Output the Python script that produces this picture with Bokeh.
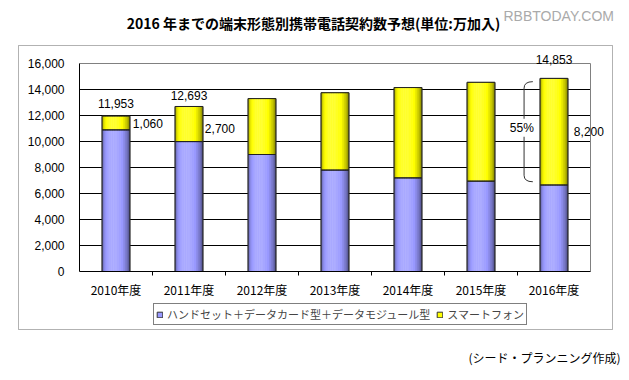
from bokeh.plotting import figure
from bokeh.models import (ColumnDataSource, Label, Legend, LegendItem, FixedTicker,
                          NumeralTickFormatter, PolyAnnotation)
from bokeh.transform import dodge
from bokeh.embed import file_html
from bokeh.resources import INLINE

# ---------------- data ----------------
years = ["2010年度", "2011年度", "2012年度", "2013年度", "2014年度", "2015年度", "2016年度"]
handset = [10893, 9993, 9000, 7800, 7200, 6950, 6653]
smartphone = [1060, 2700, 4300, 5950, 6950, 7600, 8200]
series_names = ["ハンドセット＋データカード型＋データモジュール型", "スマートフォン"]
y_ticks = [0, 2000, 4000, 6000, 8000, 10000, 12000, 14000, 16000]
title_text = "2016 年までの端末形態別携帯電話契約数予想(単位:万加入)"
source_text = "(シード・プランニング作成)"
share_text = "55%"
watermark = "RBBTODAY.COM"

x = list(range(len(years)))
total = [h + s for h, s in zip(handset, smartphone)]
src = ColumnDataSource(dict(x=x, handset=handset, smartphone=smartphone, total=total))

JP = "Noto Sans CJK JP"
NUM = "Liberation Sans"
BAR_W = 0.38
BASE_COLORS = ["#9999FF", "#FFFF00"]
X0, X1 = -0.5, len(years) - 0.5
YMAX = y_ticks[-1]

# ---------------- layout (canvas pixels) ----------------
W, H = 621, 372
PL, PR, PT, PB = 79, 590, 63, 271          # plot-area edges inside the canvas
px_per_x = (PR - PL) / (X1 - X0)
px_per_y = (PB - PT) / YMAX
x_range = (X0 - PL / px_per_x, X1 + (W - PR) / px_per_x)
y_range = (-(H - PB) / px_per_y, YMAX + PT / px_per_y)

p = figure(width=W, height=H, x_range=x_range, y_range=y_range,
           output_backend="svg", toolbar_location=None, title=None,
           min_border=0, min_border_left=0, min_border_right=0,
           min_border_top=0, min_border_bottom=0)
p.background_fill_color = "white"
p.border_fill_color = "white"
p.outline_line_color = None

# axes drawn at the plot-area edges
p.xaxis.fixed_location = 0
p.xaxis.bounds = (X0, X1)
p.xaxis.ticker = FixedTicker(ticks=x, minor_ticks=[i + 0.5 for i in x[:-1]])
p.xaxis.major_label_overrides = {i: y for i, y in zip(x, years)}
p.xaxis.major_tick_out = 0
p.xaxis.major_tick_in = 0
p.xaxis.minor_tick_out = 4
p.xaxis.minor_tick_in = 0
p.xaxis.minor_tick_line_color = "black"
p.xaxis.major_label_standoff = 5
p.xaxis.major_label_text_font = JP
p.xaxis.major_label_text_font_size = "12px"
p.xaxis.major_label_text_color = "black"
p.xaxis.axis_line_color = "black"

p.yaxis.fixed_location = X0
p.yaxis.bounds = (0, YMAX)
p.yaxis.ticker = FixedTicker(ticks=y_ticks)
p.yaxis.formatter = NumeralTickFormatter(format="0,0")
p.yaxis.major_tick_out = 0
p.yaxis.major_tick_in = 0
p.yaxis.minor_tick_line_color = None
p.yaxis.major_label_standoff = 15
p.yaxis.major_label_text_font = NUM
p.yaxis.major_label_text_font_size = "12px"
p.yaxis.major_label_text_color = "black"
p.yaxis.axis_line_color = "black"

p.xgrid.visible = False
p.ygrid.visible = False

# gridlines limited to the plot area, plus the grey top/right border of the plot area
grid_vals = y_ticks[1:-1]
p.segment(x0=[X0] * len(grid_vals), x1=[X1] * len(grid_vals), y0=grid_vals, y1=grid_vals,
          line_color="black", line_width=1)
p.segment(x0=[X0, X1], x1=[X1, X1], y0=[YMAX, 0], y1=[YMAX, YMAX],
          line_color="#808080", line_width=1)

# base stacked bars (also used for legend)
base = p.vbar_stack(["handset", "smartphone"], x="x", width=BAR_W, source=src,
                    color=BASE_COLORS, line_color="#333333", line_width=1)


# cylinder-like shading strips
def shade(hex_color, t):
    r, g, b = int(hex_color[1:3], 16), int(hex_color[3:5], 16), int(hex_color[5:7], 16)
    peak = 0.38
    if t < peak:
        k = 0.22 - 0.55 * ((peak - t) / peak) ** 2
    else:
        k = 0.22 - 0.70 * ((t - peak) / (1 - peak)) ** 2
    if k >= 0:
        r, g, b = [int(c + (255 - c) * k) for c in (r, g, b)]
    else:
        r, g, b = [int(c * (1 + k)) for c in (r, g, b)]
    return "#%02x%02x%02x" % (r, g, b)


N = 16
sw = BAR_W / N
for i in range(N):
    t = (i + 0.5) / N
    off = -BAR_W / 2 + (i + 0.5) * sw
    p.vbar(x=dodge("x", off), width=sw * 1.05, bottom=0, top="handset", source=src,
           fill_color=shade(BASE_COLORS[0], t), line_color=None)
    p.vbar(x=dodge("x", off), width=sw * 1.05, bottom="handset", top="total", source=src,
           fill_color=shade(BASE_COLORS[1], t), line_color=None)

# outlines
p.vbar(x="x", width=BAR_W, bottom=0, top="handset", source=src,
       fill_color=None, line_color="#222222", line_width=1)
p.vbar(x="x", width=BAR_W, bottom="handset", top="total", source=src,
       fill_color=None, line_color="#222222", line_width=1)

# value labels (totals above bars)
for i, dy in [(0, 13), (1, 11), (6, 19)]:
    p.add_layout(Label(x=x[i], y=total[i], y_offset=dy, text=f"{total[i]:,}",
                       text_align="center", text_baseline="middle",
                       text_font=NUM, text_font_size="12px", text_color="black"))
# smartphone values beside bars
for i, dx, dy in [(0, 3, 0), (1, 2, -4), (6, 6, 0)]:
    p.add_layout(Label(x=x[i] + BAR_W / 2, y=handset[i] + smartphone[i] / 2,
                       x_offset=dx, y_offset=dy, text=f"{smartphone[i]:,}",
                       text_align="left", text_baseline="middle",
                       text_font=NUM, text_font_size="12px", text_color="black"))

# brace for 2016 smartphone share
bx_line = x[6] - 0.41
bx_tail = x[6] - 0.29
y_top = total[6] - 250
y_bot = handset[6] + 250
d = 500
p.quadratic(x0=[bx_tail, bx_tail], y0=[y_top, y_bot], x1=[bx_line, bx_line],
            y1=[y_top - d, y_bot + d], cx=[bx_line, bx_line], cy=[y_top, y_bot],
            line_color="#333333", line_width=1)
p.segment(x0=[bx_line], y0=[y_top - d], x1=[bx_line], y1=[y_bot + d],
          line_color="#333333", line_width=1)
p.add_layout(Label(x=x[6] - 0.44, y=(total[6] + handset[6]) / 2, y_offset=4,
                   text=share_text, text_align="center", text_baseline="middle",
                   text_font=NUM, text_font_size="12px", text_color="black",
                   background_fill_color="white", padding=2))

# legend below the x axis
legend = Legend(items=[LegendItem(label=series_names[0], renderers=[base[0]]),
                       LegendItem(label=series_names[1], renderers=[base[1]])],
                location=(153, H - 325), orientation="horizontal",
                border_line_color="black", border_line_width=1,
                background_fill_color="white", background_fill_alpha=1,
                label_text_font=JP, label_text_font_size="11px",
                glyph_width=7, glyph_height=7, label_standoff=4, spacing=6,
                padding=2, margin=0, label_height=12)
p.add_layout(legend)

# outer chart-area frame (screen units: from canvas bottom-left)
p.add_layout(PolyAnnotation(xs=[18, 612, 612, 18], ys=[H - 45, H - 45, H - 329, H - 329],
                            xs_units="screen", ys_units="screen",
                            fill_color=None, line_color="black", line_width=1))

# title, watermark, source note
p.add_layout(Label(x=313, y=H - 22, x_units="screen", y_units="screen", text=title_text,
                   text_align="center", text_baseline="middle", text_font=JP,
                   text_font_size="14px", text_font_style="bold", text_color="black"))
p.add_layout(Label(x=503, y=H - 15, x_units="screen", y_units="screen", text=watermark,
                   text_align="left", text_baseline="middle", text_font=NUM,
                   text_font_size="14px", text_color="#aaaaaa"))
p.add_layout(Label(x=620, y=H - 357, x_units="screen", y_units="screen", text=source_text,
                   text_align="right", text_baseline="middle", text_font=JP,
                   text_font_size="12px", text_color="black"))

open("out.html", "w").write(file_html(p, INLINE))
